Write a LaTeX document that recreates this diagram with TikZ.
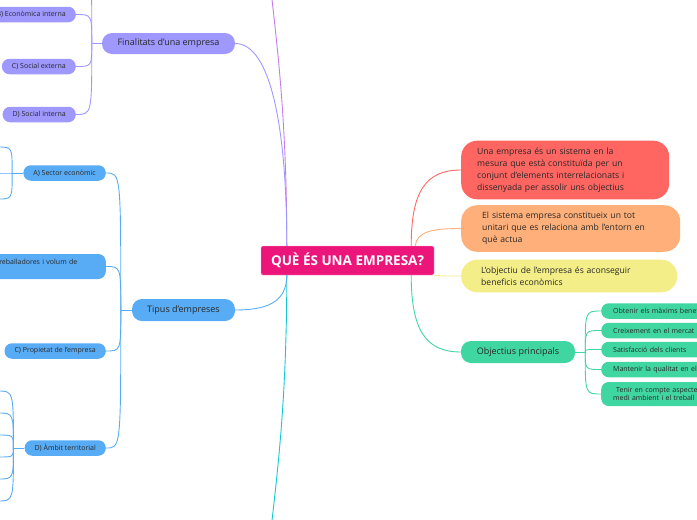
\documentclass[tikz,border=0pt]{standalone}
\usepackage{fontspec}
\setmainfont{Open Sans}
\usetikzlibrary{positioning}
\usetikzlibrary{calc}
\definecolor{ink}{RGB}{40,40,40}
\definecolor{pinkc}{RGB}{236,22,122}
\definecolor{purplec}{RGB}{158,152,255}
\definecolor{violetc}{RGB}{196,126,236}
\definecolor{bluec}{RGB}{88,172,246}
\definecolor{cyanc}{RGB}{22,200,212}
\definecolor{redc}{RGB}{255,102,98}
\definecolor{orangec}{RGB}{255,176,122}
\definecolor{yellowc}{RGB}{244,238,136}
\definecolor{greenc}{RGB}{64,214,162}

\begin{document}
\begin{tikzpicture}[x=1pt, y=-1pt,
    every node/.style={text=ink},
    branch/.style={rounded corners=10pt, minimum height=22pt, inner xsep=0pt, font=\fontsize{9}{11}\selectfont},
    leaf/.style={rounded corners=7.5pt, minimum height=15.5pt, inner xsep=10pt, font=\fontsize{7}{8.5}\selectfont},
    note/.style={rounded corners=16pt, anchor=west, align=left, inner ysep=7pt, font=\fontsize{8.6}{12}\selectfont},
    link/.style={line width=0.9pt}]
    \useasboundingbox (0,0) rectangle (697,520);
    \clip (0,0) rectangle (697,520);

    % centre
    \node[fill=pinkc, draw=pinkc!40, rounded corners=1.5pt, minimum width=173pt, minimum height=29pt,
          text=white, font=\fontsize{13.5}{15}\selectfont\bfseries] (core) at (347.5,260.5) {QUÈ ÉS UNA EMPRESA?};
    \coordinate (coreNL) at ($(core.north west)+(26,0)$);
    \coordinate (coreSL) at ($(core.south west)+(26,0)$);
    \coordinate (coreNR) at ($(core.north east)+(-23,0)$);
    \coordinate (coreSR) at ($(core.south east)+(-23,0)$);

    % main branches
    \node[branch, fill=purplec, minimum width=133pt, minimum height=21pt] (fin) at (168.5,43.5) {Finalitats d'una empresa};
    \node[branch, fill=bluec, minimum width=103pt] (tip) at (183.5,310) {Tipus d'empreses};
    \node[branch, fill=greenc, minimum width=114pt] (obj) at (518,352) {Objectius principals};
    \node[note, fill=redc, text width=176pt, inner xsep=16pt] (defin) at (461,170)
        {Una empresa és un sistema en la\\mesura que està constituïda per un\\conjunt d'elements interrelacionats i\\dissenyada per assolir uns objectius};
    \node[note, fill=orangec, text width=177pt, inner xsep=21pt] (sistema) at (461,228.5)
        {El sistema empresa constitueix un tot\\unitari que es relaciona amb l'entorn en\\què actua};
    \node[note, fill=yellowc, text width=176pt, inner xsep=20pt] (benef) at (461,276)
        {L'objectiu de l'empresa és aconseguir\\beneficis econòmics};
    \coordinate (upper) at (268,-40);
    \coordinate (lower) at (268,560);

    \draw[link, violetc] (coreNL) .. controls +(0,-150) and +(5,60) .. (upper);
    \draw[link, cyanc] (coreSL) .. controls +(0,150) and +(5,-60) .. (lower);
    \draw[link, purplec] (coreNL) .. controls +(0,-120) and +(35,0) .. (fin.east);
    \draw[link, bluec] (coreSL) .. controls +(0,28) and +(30,0) .. (tip.east);
    \draw[link, redc] (coreNR) .. controls +(0,-55) and +(-35,0) .. (defin.west);
    \draw[link, orangec] ($(core.north east)+(-19,0)$) .. controls +(2,-14) and +(-30,0) .. (sistema.west);
    \draw[link, yellowc] (core.south east) .. controls +(10,1) and +(-15,0) .. (benef.west);
    \draw[link, greenc] (coreSR) .. controls +(0,55) and +(-35,0) .. (obj.west);

    % finalitats
    \coordinate (finA) at (76,-40);
    \node[leaf, fill=purplec, anchor=east] (finB) at (76,14.5) {B) Econòmica interna};
    \node[leaf, fill=purplec, anchor=east] (finC) at (76,66.5) {C) Social externa};
    \node[leaf, fill=purplec, anchor=east] (finD) at (76,114.5) {D) Social interna};
    \draw[link, purplec] (fin.west) -- ++(-10,0) coordinate (finS);
    \draw[link, purplec] (finS) .. controls (finS |- finA) .. (finA);
    \foreach \c in {finB,finC,finD}
        \draw[link, purplec] (finS) .. controls (finS |- \c.east) .. (\c.east);

    % tipus
    \node[leaf, fill=bluec, anchor=east] (tipA) at (106,173) {A) Sector econòmic};
    \node[leaf, fill=bluec, anchor=east, text width=99pt, align=left, minimum height=25pt] (tipB) at (106,266.5)
        {treballadores i volum de\\\mbox{}};
    \node[leaf, fill=bluec, anchor=east] (tipC) at (106,351) {C) Propietat de l'empresa};
    \node[leaf, fill=bluec, anchor=east] (tipD) at (106,448) {D) Àmbit territorial};
    \draw[link, bluec] (tip.west) -- ++(-11,0) coordinate (tipS);
    \foreach \c in {tipA,tipB,tipC,tipD}
        \draw[link, bluec] (tipS) .. controls (tipS |- \c.east) .. (\c.east);

    \foreach \y [count=\i] in {147,173,199}
        \coordinate (sec\i) at (-2,\y);
    \draw[link, bluec] (tipA.west) -- ++(-11,0) coordinate (secS);
    \foreach \i in {1,2,3}
        \draw[link, bluec] (secS) .. controls (secS |- sec\i) .. (sec\i);

    \foreach \y [count=\i] in {391,413,435,457,479,501}
        \coordinate (amb\i) at (-2,\y);
    \draw[link, bluec] (tipD.west) -- ++(-11,0) coordinate (ambS);
    \foreach \i in {1,...,6}
        \draw[link, bluec] (ambS) .. controls (ambS |- amb\i) .. (amb\i);

    % objectius
    \foreach \y/\t [count=\i] in {311/Obtenir els màxims beneficis, 330.5/Creixement en el mercat,
                                  349.5/Satisfacció dels clients, 369.5/Mantenir la qualitat en els}
        \node[leaf, fill=greenc, anchor=west, text width=110pt, align=left, inner xsep=12pt] (obj\i) at (601,\y) {\t};
    \node[leaf, fill=greenc, anchor=west, text width=110pt, align=left, inner xsep=12pt, minimum height=24pt] (obj5) at (601,394)
        {\hspace*{3pt}Tenir en compte aspectes\\medi ambient i el treball};
    \draw[link, greenc] (obj.east) -- ++(10,0) coordinate (objS);
    \foreach \i in {1,...,5}
        \draw[link, greenc] (objS) .. controls (objS |- obj\i.west) .. (obj\i.west);
\end{tikzpicture}
\end{document}
